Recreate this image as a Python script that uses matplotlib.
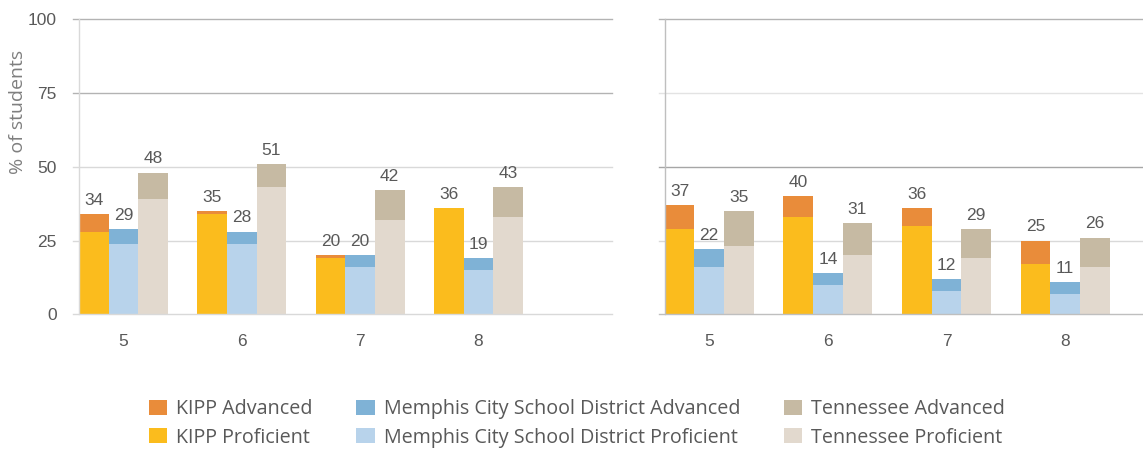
import matplotlib
matplotlib.use("Agg")
import matplotlib.pyplot as plt
from matplotlib.patches import Patch
import numpy as np

grades = ["5", "6", "7", "8"]

# Left panel
kipp_prof_l = [28, 34, 19, 36]
kipp_adv_l = [6, 1, 1, 0]
mcs_prof_l = [24, 24, 16, 15]
mcs_adv_l = [5, 4, 4, 4]
tn_prof_l = [39, 43, 32, 33]
tn_adv_l = [9, 8, 10, 10]
kipp_lab_l = [34, 35, 20, 36]
mcs_lab_l = [29, 28, 20, 19]
tn_lab_l = [48, 51, 42, 43]

# Right panel
kipp_prof_r = [29, 33, 30, 17]
kipp_adv_r = [8, 7, 6, 8]
mcs_prof_r = [16, 10, 8, 7]
mcs_adv_r = [6, 4, 4, 4]
tn_prof_r = [23, 20, 19, 16]
tn_adv_r = [12, 11, 10, 10]
kipp_lab_r = [37, 40, 36, 25]
mcs_lab_r = [22, 14, 12, 11]
tn_lab_r = [35, 31, 29, 26]

yticks = [0, 25, 50, 75, 100]
ylabel = "% of students"
legend_labels = ["KIPP Advanced", "KIPP Proficient",
                 "Memphis City School District Advanced", "Memphis City School District Proficient",
                 "Tennessee Advanced", "Tennessee Proficient"]

C_KA = "#E98C3A"
C_KP = "#FBBC1D"
C_MA = "#7FB2D6"
C_MP = "#B8D3EB"
C_TA = "#C6BAA3"
C_TP = "#E2D9CE"
TXT = "#595959"

W, H = 1143, 449
fig = plt.figure(figsize=(W / 100, H / 100), dpi=100)

num_font = ["Liberation Sans", "DejaVu Sans"]
txt_font = ["Open Sans", "DejaVu Sans"]


def panel(ax, series, labels, xmax, grid_colors, spine_color, show_yticks):
    x = np.arange(len(grades))
    offs = [-0.25, 0.0, 0.25]
    bw = 0.25
    for (prof, adv, cp, ca), labs, off in zip(series, labels, offs):
        ax.bar(x + off, prof, bw, color=cp, zorder=3, linewidth=0)
        ax.bar(x + off, adv, bw, bottom=prof, color=ca, zorder=3, linewidth=0)
        for xi, p, a, lab in zip(x, prof, adv, labs):
            ax.annotate(str(lab), (xi + off, p + a), xytext=(0, 4.5),
                        textcoords="offset points", ha="center", va="bottom",
                        fontsize=12.5, color=TXT, family=num_font, zorder=4)
    ax.set_xlim(-0.375, xmax)
    ax.set_ylim(0, 100)
    for sp in ["top", "right", "bottom"]:
        ax.spines[sp].set_visible(False)
    ax.spines["left"].set_color(spine_color)
    ax.spines["left"].set_linewidth(1.0)
    ax.spines["left"].set_zorder(5)
    width_px = ax.get_position().width * W
    ext = -6.0 / width_px
    for yv, col in zip(yticks, grid_colors):
        ax.axhline(yv, xmin=ext, xmax=1, color=col, linewidth=1.0,
                   clip_on=False, zorder=2 if yv > 0 else 4)
    ax.set_yticks(yticks)
    ax.tick_params(axis="y", length=0, pad=16)
    if show_yticks:
        ax.set_yticklabels([str(v) for v in yticks], fontsize=12.5, color=TXT, family=num_font)
    else:
        ax.set_yticklabels([])
    ax.set_xticks(x)
    ax.set_xticklabels(grades, fontsize=12.5, color=TXT, family=num_font)
    ax.tick_params(axis="x", length=0, pad=14)


axL = fig.add_axes([79 / W, 1 - 314.3 / H, (611.7 - 79) / W, (314.3 - 19.3) / H])
axR = fig.add_axes([664.7 / W, 1 - 314.3 / H, (W - 664.7) / W, (314.3 - 19.3) / H])

panel(axL,
      [(kipp_prof_l, kipp_adv_l, C_KP, C_KA), (mcs_prof_l, mcs_adv_l, C_MP, C_MA),
       (tn_prof_l, tn_adv_l, C_TP, C_TA)],
      [kipp_lab_l, mcs_lab_l, tn_lab_l], 4.125,
      ["#D9D9D9", "#D9D9D9", "#D9D9D9", "#B3B3B3", "#B3B3B3"], "#D9D9D9", True)
panel(axR,
      [(kipp_prof_r, kipp_adv_r, C_KP, C_KA), (mcs_prof_r, mcs_adv_r, C_MP, C_MA),
       (tn_prof_r, tn_adv_r, C_TP, C_TA)],
      [kipp_lab_r, mcs_lab_r, tn_lab_r], 3.656,
      ["#BFBFBF", "#D9D9D9", "#A6A6A6", "#E3E3E3", "#B3B3B3"], "#BFBFBF", False)

fig.text(18 / W, 1 - 111.5 / H, ylabel, rotation=90, ha="center", va="center",
         fontsize=14, color="#7F7F7F", family=txt_font)

colors = [C_KA, C_KP, C_MA, C_MP, C_TA, C_TP]
handles = [Patch(facecolor=c, edgecolor="none") for c in colors]
leg = fig.legend(handles, legend_labels, ncol=3, loc="center",
                 bbox_to_anchor=(577 / W, 1 - 423.5 / H), frameon=False,
                 prop={"family": txt_font, "size": 14.2},
                 handlelength=0.92, handleheight=0.82, handletextpad=0.46,
                 columnspacing=2.22, labelspacing=0.42, borderpad=0, borderaxespad=0)
for t in leg.get_texts():
    t.set_color(TXT)

fig.savefig("out.png", dpi=100)
